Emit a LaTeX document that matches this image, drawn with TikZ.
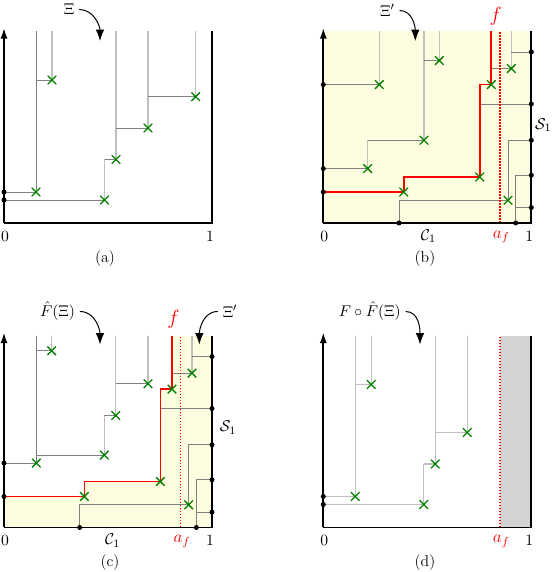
\documentclass[tikz,border=0pt]{standalone}
\usepackage{amsmath}
\usepackage{amssymb}
\usepackage{xcolor}
\usepackage{tikz}
\usetikzlibrary{arrows.meta}
\usetikzlibrary{calc}

\definecolor{jaune}{RGB}{255,253,224}
\definecolor{grisclair}{RGB}{211,211,211}

% croix verte et point noir
\newcommand{\croix}[2]{\draw[croix] (#1,#2) ++(-3pt,-3pt) -- ++(6pt,6pt) ++(-6pt,0pt) -- ++(6pt,-6pt);}
\newcommand{\point}[2]{\fill (#1,#2) circle (1.75pt);}

\begin{document}
\begin{tikzpicture}[x=0.7pt,y=0.7pt,
    every node/.style={font=\fontsize{11}{13}\selectfont},
    axe/.style={line width=1.2pt},
    haut/.style={gray!50,line width=0.9pt},
    trait/.style={gray,line width=0.55pt},
    chemin/.style={red,line width=1.15pt},
    pointille/.style={red,line width=1.2pt,dash pattern=on 1.1pt off 1pt},
    croix/.style={green!50!black,line width=0.9pt},
    fleche/.style={-{Latex[length=8pt,width=6pt]},line width=0.7pt},
    grand/.style={font=\fontsize{15}{18}\selectfont,text=red},
    moyen/.style={font=\fontsize{12}{14}\selectfont,text=red}]
    \useasboundingbox (0,0) rectangle (554,572);

    % ---------- (a) ----------
    \begin{scope}[shift={(4,349)}]
        % traits
        \draw[trait] (32,191.5) -- (32,31);
        \draw[haut] (48,191.5) -- (48,143);
        \draw[trait] (32,143) -- (48,143);
        \draw[trait] (0,31) -- (32,31);
        \draw[trait] (0,23) -- (100.5,23);
        \draw[haut] (100.5,23) -- (100.5,63.5);
        \draw[trait] (100.5,63.5) -- (112,63.5);
        \draw[haut] (112,191.5) -- (112,63.5);
        \draw[trait] (112,95) -- (144,95);
        \draw[haut] (144,191.5) -- (144,95);
        \draw[trait] (144,126.3) -- (191.7,126.3);
        \draw[haut] (191.7,191.5) -- (191.7,126.3);
        % axes
        \draw[axe,-{Latex[length=7.5pt,width=5pt]}] (0,0) -- (0,195);
        \draw[axe] (0,0) -- (208,0) -- (208,191.5);
        \point{0}{31} \point{0}{23}
        % points de Xi
        \croix{32}{31} \croix{48}{143} \croix{100.5}{23}
        \croix{112}{63.5} \croix{144}{95} \croix{191.7}{126.3}
        % etiquettes
        \node (zeroA) at (1,-13) {$0$};
        \node (unA) at (206,-13) {$1$};
        \node (xiA) at (65,213.5) {$\Xi$};
        \coordinate (xiAfin) at (96,182);
        \draw[fleche] (xiA.east) to[out=0,in=90] (xiAfin);
    \end{scope}

    % ---------- (b) ----------
    \begin{scope}[shift={(323.3,349)}]
        \fill[jaune] (0,0) rectangle (208,191.5);
        % traits
        \draw[haut] (56,191.5) -- (56,138.4);
        \draw[trait] (0,138.4) -- (56,138.4);
        \draw[haut] (100.7,191.5) -- (100.7,82.7);
        \draw[trait] (100.7,162.4) -- (116,162.4);
        \draw[haut] (116,191.5) -- (116,162.4);
        \draw[trait] (44.4,82.7) -- (100.7,82.7);
        \draw[haut] (44.4,82.7) -- (44.4,54.4);
        \draw[trait] (0,54.4) -- (44.4,54.4);
        \draw[trait] (75.7,0) -- (75.7,22.7) -- (184.7,22.7);
        \draw[trait] (184.7,22.7) -- (184.7,82.7) -- (208,82.7);
        \draw[trait] (192.4,0) -- (192.4,47.7) -- (208,47.7);
        \draw[trait] (192.4,15.4) -- (208,15.4);
        \draw[trait] (156.4,119) -- (208,119);
        \draw[trait] (168,154.4) -- (188,154.4);
        \draw[haut] (188,191.5) -- (188,154.4);
        \draw[trait] (188,171) -- (208,171);
        % a_f et chemin f
        \draw[pointille] (176.4,0) -- (176.4,191.5);
        \draw[chemin] (0,31) -- (80.4,31) -- (80.4,46) -- (156.4,46) -- (156.4,138.4) -- (168,138.4) -- (168,191.5);
        % axes
        \draw[axe,-{Latex[length=7.5pt,width=5pt]}] (0,0) -- (0,195);
        \draw[axe] (0,0) -- (208,0) -- (208,191.5);
        \point{0}{138.4} \point{0}{54.4} \point{0}{31}
        \point{208}{171} \point{208}{119} \point{208}{82.7} \point{208}{47.7} \point{208}{15.4}
        \point{75.7}{0} \point{192.4}{0}
        % points de Xi'
        \croix{56}{138.4} \croix{116}{162.4} \croix{100.7}{82.7}
        \croix{44.4}{54.4} \croix{80.4}{31} \croix{156.4}{46}
        \croix{168}{138.4} \croix{188}{154.4} \croix{184.7}{22.7}
        % etiquettes
        \node (zeroB) at (1,-13) {$0$};
        \node (unB) at (206,-13) {$1$};
        \node (cB) at (105,-13) {$\mathcal{C}_1$};
        \node[moyen] (afB) at (178,-14) {$a_f$};
        \node (sB) at (220,98) {$\mathcal{S}_1$};
        \node[grand] (fB) at (172.5,207) {$f$};
        \node (xiB) at (64,212.5) {$\Xi'$};
        \coordinate (xiBfin) at (92,182);
        \draw[fleche] (xiB.east) to[out=0,in=90] (xiBfin);
    \end{scope}

    % ---------- (c) ----------
    \begin{scope}[shift={(4,44.5)}]
        \fill[jaune] (0,0) -- (208,0) -- (208,191.5) -- (168,191.5) -- (168,138.4) -- (156.4,138.4)
            -- (156.4,46) -- (80.4,46) -- (80.4,31) -- (0,31) -- cycle;
        % traits de F(Xi)
        \draw[trait] (32.3,191.5) -- (32.3,64.4);
        \draw[trait] (0,64.4) -- (32.3,64.4);
        \draw[haut] (47.7,191.5) -- (47.7,176.7);
        \draw[trait] (32.3,176.7) -- (47.7,176.7);
        \draw[trait] (32.3,72.4) -- (100.3,72.4);
        \draw[haut] (100.3,72.4) -- (100.3,112);
        \draw[trait] (100.3,112) -- (111.7,112);
        \draw[haut] (111.7,191.5) -- (111.7,112);
        \draw[trait] (111.7,143.7) -- (144,143.7);
        \draw[haut] (144,191.5) -- (144,143.7);
        % traits de Xi'
        \draw[trait] (75.7,0) -- (75.7,22.7) -- (184.7,22.7);
        \draw[trait] (184.7,22.7) -- (184.7,82.7) -- (208,82.7);
        \draw[trait] (192.4,0) -- (192.4,47.7) -- (208,47.7);
        \draw[trait] (192.4,15.4) -- (208,15.4);
        \draw[trait] (156.4,119) -- (208,119);
        \draw[trait] (168,154.4) -- (188,154.4);
        \draw[haut] (188,191.5) -- (188,154.4);
        \draw[trait] (188,171) -- (208,171);
        % a_f et chemin f
        \draw[pointille] (176.4,0) -- (176.4,191.5);
        \draw[chemin] (0,31) -- (80.4,31) -- (80.4,46) -- (156.4,46) -- (156.4,138.4) -- (168,138.4) -- (168,191.5);
        % axes
        \draw[axe,-{Latex[length=7.5pt,width=5pt]}] (0,0) -- (0,195);
        \draw[axe] (0,0) -- (208,0) -- (208,191.5);
        \point{0}{64.4} \point{0}{31}
        \point{208}{171} \point{208}{119} \point{208}{82.7} \point{208}{47.7} \point{208}{15.4}
        \point{75.7}{0} \point{192.4}{0}
        % points
        \croix{32.3}{64.4} \croix{47.7}{176.7} \croix{100.3}{72.4}
        \croix{111.7}{112} \croix{144}{143.7}
        \croix{80.4}{31} \croix{156.4}{46} \croix{168}{138.4}
        \croix{188}{154.4} \croix{184.7}{22.7}
        % etiquettes
        \node (zeroC) at (1,-13) {$0$};
        \node (unC) at (206,-13) {$1$};
        \node (cC) at (108.7,-13) {$\mathcal{C}_1$};
        \node[moyen] (afC) at (178,-14) {$a_f$};
        \node (sC) at (224,100) {$\mathcal{S}_1$};
        \node[grand] (fC) at (169.5,208) {$f$};
        \node (fxiC) at (53.5,216) {$\hat{F}(\Xi)$};
        \coordinate (fxiCfin) at (96,183);
        \draw[fleche] (fxiC.east) to[out=0,in=90] (fxiCfin);
        \node (xiC) at (226,216) {$\Xi'$};
        \coordinate (xiCfin) at (195.3,183);
        \draw[fleche] (xiC.west) to[out=180,in=90] (xiCfin);
    \end{scope}

    % ---------- (d) ----------
    \begin{scope}[shift={(323.3,44.5)}]
        \fill[grisclair] (176.4,0) rectangle (208,191.5);
        % traits
        \draw[haut] (32,191.5) -- (32,31);
        \draw[haut] (48,191.5) -- (48,143);
        \draw[haut] (32,143) -- (48,143);
        \draw[haut] (0,31) -- (32,31);
        \draw[haut] (0,23) -- (100.5,23);
        \draw[haut] (100.5,23) -- (100.5,63.5);
        \draw[haut] (100.5,63.5) -- (112,63.5);
        \draw[haut] (112,191.5) -- (112,63.5);
        \draw[haut] (112,95) -- (144,95);
        \draw[haut] (144,191.5) -- (144,95);
        \draw[pointille] (176.4,0) -- (176.4,191.5);
        % axes
        \draw[axe,-{Latex[length=7.5pt,width=5pt]}] (0,0) -- (0,195);
        \draw[axe] (0,0) -- (208,0) -- (208,191.5);
        \point{0}{31} \point{0}{23}
        % points
        \croix{32}{31} \croix{48}{143} \croix{100.5}{23}
        \croix{112}{63.5} \croix{144}{95}
        % etiquettes
        \node (zeroD) at (1,-13) {$0$};
        \node (unD) at (206,-13) {$1$};
        \node[moyen] (afD) at (178,-14) {$a_f$};
        \node (ffxiD) at (46.4,216) {$F\circ\hat{F}(\Xi)$};
        \coordinate (ffxiDfin) at (96.7,183);
        \draw[fleche] (ffxiD.east) to[out=0,in=90] (ffxiDfin);
    \end{scope}

    % legendes
    \node (legA) at (105,313.5) {(a)};
    \node (legB) at (425,313.5) {(b)};
    \node (legC) at (110,9) {(c)};
    \node (legD) at (425,9) {(d)};
\end{tikzpicture}
\end{document}
